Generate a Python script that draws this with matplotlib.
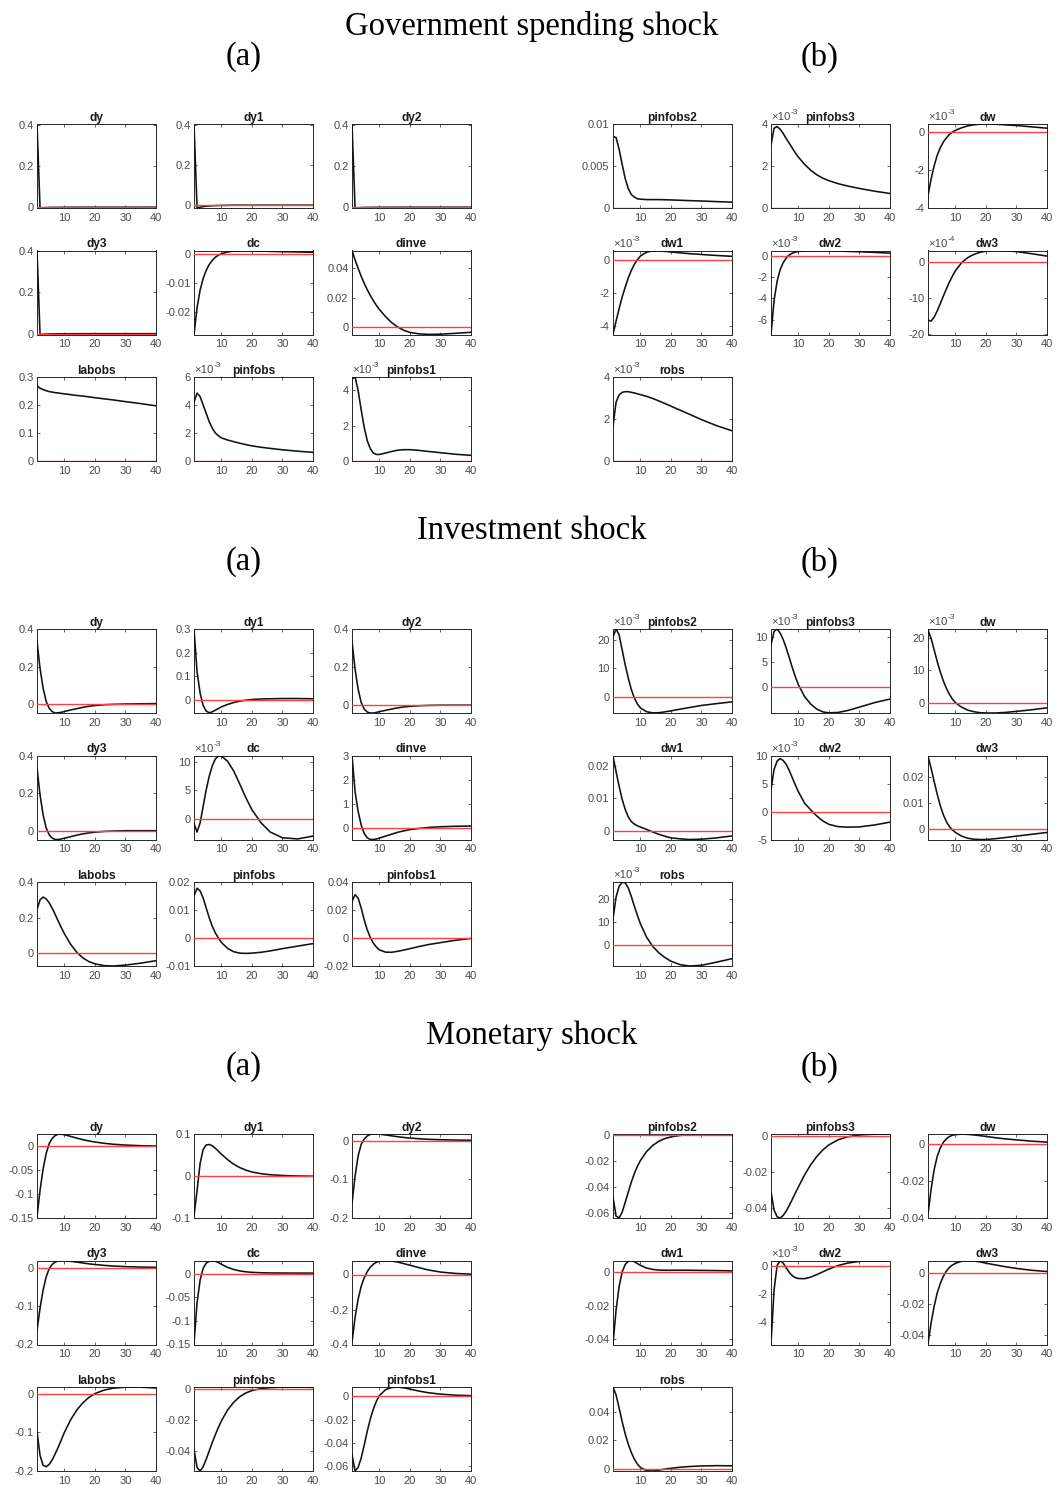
import numpy as np
import matplotlib
matplotlib.use("Agg")
import matplotlib.pyplot as plt
from matplotlib.ticker import FixedLocator, FuncFormatter

# Horizon (quarters) at which the impulse responses are tabulated
periods = [1, 2, 3, 4, 5, 6, 7, 8, 9, 10, 12, 14, 16, 18, 20, 23, 26, 30, 35, 40]

# ---------------- Government spending shock ----------------
g_dy = [0.407, -0.004, -0.003, -0.002, -0.0015, -0.001, -0.001, -0.0008, -0.0006, -0.0005,
        -0.0003, -0.0002, -0.0001, 0.0, 0.0, 0.0, 0.0, 0.0, 0.0, 0.0]
g_dy1 = [0.407, -0.013, -0.009, -0.006, -0.004, -0.003, -0.002, -0.001, -0.0005, 0.0,
         0.0005, 0.001, 0.001, 0.001, 0.001, 0.001, 0.001, 0.001, 0.001, 0.001]
g_dy2 = [0.407, -0.004, -0.003, -0.002, -0.0015, -0.001, -0.001, -0.0008, -0.0006, -0.0005,
         -0.0003, -0.0002, -0.0001, 0.0, 0.0, 0.0, 0.0, 0.0, 0.0, 0.0]
g_dy3 = [0.403, -0.004, -0.003, -0.002, -0.0015, -0.001, -0.001, -0.0008, -0.0006, -0.0005,
         -0.0003, -0.0002, -0.0001, 0.0, 0.0, 0.0, 0.0, 0.0, 0.0, 0.0]
g_dc = [-0.0277, -0.0185, -0.0125, -0.0085, -0.0057, -0.0037, -0.0023, -0.0012, -0.0005, 0.0,
        0.0006, 0.0009, 0.0010, 0.0010, 0.0010, 0.0009, 0.0008, 0.0007, 0.0006, 0.0005]
g_dinve = [0.0518, 0.0455, 0.0398, 0.0345, 0.0297, 0.0254, 0.0215, 0.0180, 0.0148, 0.0120,
           0.0072, 0.0032, 0.0002, -0.0020, -0.0034, -0.0044, -0.0047, -0.0046, -0.0040, -0.0033]
g_labobs = [0.268, 0.260, 0.255, 0.251, 0.248, 0.246, 0.244, 0.243, 0.241, 0.240,
            0.237, 0.234, 0.232, 0.229, 0.226, 0.222, 0.218, 0.212, 0.205, 0.197]
g_pinfobs = np.array([4.2, 4.85, 4.6, 4.0, 3.4, 2.8, 2.35, 2.0, 1.8, 1.65,
                      1.5, 1.38, 1.27, 1.17, 1.08, 0.98, 0.9, 0.8, 0.7, 0.62]) * 1e-3
g_pinfobs1 = np.array([4.65, 4.75, 4.0, 2.9, 1.9, 1.15, 0.7, 0.45, 0.37, 0.37,
                       0.45, 0.54, 0.61, 0.64, 0.64, 0.6, 0.54, 0.47, 0.38, 0.32]) * 1e-3
g_pinfobs2 = [0.0085, 0.0084, 0.0070, 0.0052, 0.0035, 0.0023, 0.0016, 0.0013, 0.0011, 0.00105,
              0.0010, 0.0010, 0.0010, 0.00098, 0.00096, 0.00092, 0.00088, 0.00083, 0.00076, 0.0007]
g_pinfobs3 = np.array([3.0, 3.8, 3.88, 3.75, 3.55, 3.3, 3.08, 2.85, 2.62, 2.42,
                       2.08, 1.8, 1.58, 1.42, 1.3, 1.16, 1.05, 0.93, 0.8, 0.69]) * 1e-3
g_dw = np.array([-3.35, -2.5, -1.8, -1.25, -0.85, -0.55, -0.33, -0.15, -0.02, 0.07,
                 0.2, 0.3, 0.36, 0.39, 0.4, 0.39, 0.36, 0.32, 0.25, 0.18]) * 1e-3
g_dw1 = np.array([-4.5, -3.7, -2.95, -2.25, -1.65, -1.1, -0.65, -0.28, 0.0, 0.22,
                  0.45, 0.53, 0.53, 0.5, 0.46, 0.41, 0.36, 0.31, 0.25, 0.2]) * 1e-3
g_dw2 = np.array([-7.4, -4.2, -2.4, -1.3, -0.65, -0.2, 0.08, 0.25, 0.35, 0.41,
                  0.46, 0.48, 0.49, 0.49, 0.48, 0.45, 0.42, 0.38, 0.32, 0.25]) * 1e-3
g_dw3 = np.array([-16.0, -16.3, -15.2, -13.5, -11.5, -9.4, -7.4, -5.5, -3.8, -2.3,
                  -0.1, 1.3, 2.2, 2.8, 3.1, 3.3, 3.25, 3.0, 2.4, 1.75]) * 1e-4
g_robs = np.array([1.65, 2.8, 3.15, 3.27, 3.3, 3.3, 3.27, 3.24, 3.2, 3.16,
                   3.08, 2.98, 2.86, 2.74, 2.61, 2.42, 2.23, 1.97, 1.68, 1.44]) * 1e-3

# ---------------- Investment shock ----------------
i_dy = [0.335, 0.19, 0.085, 0.015, -0.022, -0.04, -0.047, -0.046, -0.043, -0.039,
        -0.031, -0.024, -0.017, -0.011, -0.007, -0.003, -0.001, 0.001, 0.002, 0.003]
i_dy1 = [0.3, 0.12, 0.03, -0.022, -0.046, -0.053, -0.049, -0.042, -0.035, -0.028,
         -0.018, -0.01, -0.004, 0.0, 0.003, 0.005, 0.006, 0.007, 0.007, 0.006]
i_dy2 = [0.335, 0.19, 0.085, 0.015, -0.02, -0.036, -0.041, -0.041, -0.038, -0.034,
         -0.027, -0.02, -0.014, -0.009, -0.006, -0.003, -0.001, 0.0, 0.0, 0.0]
i_dy3 = [0.335, 0.19, 0.085, 0.015, -0.022, -0.04, -0.047, -0.047, -0.044, -0.040,
         -0.032, -0.024, -0.017, -0.012, -0.008, -0.004, -0.002, 0.0, 0.0, 0.0]
i_dc = np.array([-0.8, -2.3, -0.7, 2.2, 5.1, 7.5, 9.3, 10.5, 11.0, 11.0,
                 10.1, 8.4, 6.1, 3.7, 1.6, -0.7, -2.3, -3.3, -3.5, -3.0]) * 1e-3
i_dinve = [3.0, 1.5, 0.68, 0.12, -0.24, -0.42, -0.49, -0.49, -0.47, -0.43,
           -0.35, -0.27, -0.19, -0.13, -0.08, -0.03, 0.01, 0.04, 0.06, 0.07]
i_labobs = [0.245, 0.3, 0.315, 0.305, 0.283, 0.252, 0.216, 0.178, 0.142, 0.108,
            0.05, 0.005, -0.027, -0.048, -0.061, -0.071, -0.073, -0.068, -0.057, -0.043]
i_pinfobs = [0.015, 0.0178, 0.0168, 0.0143, 0.0107, 0.0072, 0.0042, 0.0018, 0.0, -0.0016,
             -0.0037, -0.0049, -0.0054, -0.0055, -0.0054, -0.0051, -0.0046, -0.0038, -0.0029, -0.002]
i_pinfobs1 = [0.026, 0.031, 0.0285, 0.0215, 0.013, 0.0058, 0.0004, -0.0037, -0.0065, -0.0085,
              -0.0101, -0.0102, -0.0095, -0.0086, -0.0076, -0.0061, -0.0047, -0.0033, -0.0016, -0.0003]
i_pinfobs2 = np.array([21.0, 23.8, 21.8, 16.5, 11.2, 6.6, 2.6, -0.4, -2.5, -3.9,
                       -5.2, -5.6, -5.55, -5.25, -4.9, -4.3, -3.75, -3.0, -2.35, -1.75]) * 1e-3
i_pinfobs3 = np.array([8.5, 11.1, 11.6, 10.8, 9.5, 7.8, 5.9, 3.9, 2.1, 0.5,
                       -1.8, -3.3, -4.3, -4.85, -5.05, -4.95, -4.6, -3.9, -3.0, -2.3]) * 1e-3
i_dw = np.array([22.6, 19.9, 16.4, 12.8, 9.6, 6.8, 4.5, 2.6, 1.1, 0.0,
                 -1.4, -2.3, -2.8, -3.1, -3.2, -3.2, -3.05, -2.7, -2.2, -1.6]) * 1e-3
i_dw1 = [0.0229, 0.0182, 0.0137, 0.0097, 0.0066, 0.0043, 0.0029, 0.0021, 0.0016, 0.0012,
         0.0005, -0.0003, -0.001, -0.0016, -0.0021, -0.0024, -0.0026, -0.0025, -0.0021, -0.0015]
i_dw2 = np.array([3.9, 7.5, 9.0, 9.45, 9.1, 8.4, 7.3, 6.0, 4.7, 3.5,
                  1.5, 0.3, -0.8, -1.7, -2.3, -2.7, -2.8, -2.75, -2.4, -1.9]) * 1e-3
i_dw3 = [0.028, 0.0235, 0.0184, 0.0135, 0.0091, 0.0056, 0.0029, 0.001, -0.0003, -0.0013,
         -0.0027, -0.0035, -0.0039, -0.004, -0.004, -0.0037, -0.0033, -0.0027, -0.002, -0.0013]
i_robs = np.array([11.5, 21.0, 25.7, 27.5, 27.2, 25.0, 21.3, 17.0, 13.0, 9.3,
                   3.5, -0.5, -3.3, -5.4, -7.0, -8.5, -9.1, -8.8, -7.4, -5.9]) * 1e-3

# ---------------- Monetary shock ----------------
m_dy = [-0.148, -0.092, -0.047, -0.015, 0.006, 0.017, 0.023, 0.0255, 0.0255, 0.0245,
        0.021, 0.0175, 0.0142, 0.0115, 0.0092, 0.0065, 0.0045, 0.0028, 0.0015, 0.0008]
m_dy1 = [-0.095, -0.035, 0.03, 0.063, 0.074, 0.075, 0.072, 0.066, 0.059, 0.052,
         0.039, 0.028, 0.02, 0.014, 0.0095, 0.0055, 0.003, 0.0012, 0.0, -0.0005]
m_dy2 = [-0.163, -0.092, -0.04, -0.01, 0.004, 0.012, 0.016, 0.017, 0.017, 0.0165,
         0.0145, 0.0122, 0.01, 0.008, 0.0065, 0.0047, 0.0033, 0.0022, 0.0013, 0.0008]
m_dy3 = [-0.163, -0.105, -0.058, -0.024, -0.002, 0.009, 0.015, 0.018, 0.019, 0.019,
         0.017, 0.015, 0.0125, 0.0103, 0.0085, 0.0063, 0.0046, 0.003, 0.0018, 0.0012]
m_dc = [-0.147, -0.062, -0.014, 0.011, 0.022, 0.026, 0.0272, 0.026, 0.023, 0.0195,
        0.013, 0.0085, 0.0055, 0.0036, 0.0025, 0.0016, 0.0012, 0.001, 0.0009, 0.0008]
m_dinve = [-0.388, -0.245, -0.142, -0.068, -0.019, 0.017, 0.042, 0.059, 0.07, 0.076,
           0.079, 0.077, 0.071, 0.062, 0.053, 0.039, 0.026, 0.014, 0.006, 0.002]
m_labobs = [-0.098, -0.16, -0.185, -0.189, -0.183, -0.171, -0.155, -0.138, -0.119, -0.1,
            -0.068, -0.043, -0.024, -0.01, 0.0, 0.009, 0.014, 0.0165, 0.0165, 0.0145]
m_pinfobs = [-0.039, -0.0505, -0.0527, -0.05, -0.0452, -0.0398, -0.0344, -0.0295, -0.0248, -0.0206,
             -0.0137, -0.0088, -0.0052, -0.0028, -0.0013, 0.0, 0.0006, 0.0009, 0.0009, 0.0008]
m_pinfobs1 = [-0.05, -0.064, -0.061, -0.053, -0.042, -0.030, -0.0195, -0.011, -0.0043, 0.0005,
              0.0055, 0.0074, 0.0077, 0.0071, 0.006, 0.0043, 0.0029, 0.0017, 0.0008, 0.0004]
m_pinfobs2 = [-0.048, -0.0625, -0.064, -0.0595, -0.052, -0.0442, -0.0365, -0.0298, -0.0243, -0.0198,
              -0.013, -0.0083, -0.0051, -0.003, -0.0017, -0.0006, 0.0, 0.0003, 0.0004, 0.0004]
m_pinfobs3 = [-0.031, -0.0413, -0.045, -0.0457, -0.0443, -0.0418, -0.0387, -0.0353, -0.0318, -0.0284,
              -0.0218, -0.0162, -0.0116, -0.0079, -0.0051, -0.0023, -0.0007, 0.0004, 0.0008, 0.0009]
m_dw = [-0.038, -0.0245, -0.0138, -0.0066, -0.002, 0.0011, 0.003, 0.0043, 0.005, 0.0054,
        0.0056, 0.0055, 0.0052, 0.0048, 0.0044, 0.0037, 0.0031, 0.0025, 0.0018, 0.0013]
m_dw1 = [-0.0428, -0.0228, -0.0088, 0.0, 0.0044, 0.0064, 0.0067, 0.0061, 0.005, 0.0039,
         0.0023, 0.0015, 0.0011, 0.001, 0.001, 0.001, 0.001, 0.0009, 0.0008, 0.0006]
m_dw2 = np.array([-5.55, -1.7, 0.05, 0.4, 0.22, -0.12, -0.45, -0.68, -0.82, -0.88,
                  -0.89, -0.78, -0.6, -0.4, -0.2, 0.05, 0.22, 0.35, 0.41, 0.41]) * 1e-3
m_dw3 = [-0.0456, -0.0326, -0.0218, -0.0133, -0.0071, -0.0025, 0.0009, 0.0033, 0.0049, 0.006,
         0.0073, 0.0077, 0.0075, 0.0069, 0.0061, 0.005, 0.0039, 0.0027, 0.0015, 0.0007]
m_robs = [0.057, 0.0515, 0.0425, 0.033, 0.0245, 0.0174, 0.0116, 0.007, 0.0036, 0.0012,
          -0.001, -0.0012, -0.0006, 0.0001, 0.0007, 0.0014, 0.0019, 0.0023, 0.0025, 0.0024]

# Axis ranges, y ticks and the power of ten printed above each panel
gov_axes = {
    "dy": ((-0.004, 0.407), [0, 0.2, 0.4], 0),
    "dy1": ((-0.013, 0.407), [0, 0.2, 0.4], 0),
    "dy2": ((-0.004, 0.407), [0, 0.2, 0.4], 0),
    "dy3": ((-0.004, 0.403), [0, 0.2, 0.4], 0),
    "dc": ((-0.0277, 0.0011), [-0.02, -0.01, 0], 0),
    "dinve": ((-0.0048, 0.0518), [0, 0.02, 0.04], 0),
    "labobs": ((0, 0.3), [0, 0.1, 0.2, 0.3], 0),
    "pinfobs": ((0, 6e-3), [0, 2e-3, 4e-3, 6e-3], -3),
    "pinfobs1": ((0, 4.75e-3), [0, 2e-3, 4e-3], -3),
    "pinfobs2": ((0, 0.01), [0, 0.005, 0.01], 0),
    "pinfobs3": ((0, 4e-3), [0, 2e-3, 4e-3], -3),
    "dw": ((-4e-3, 0.4e-3), [-4e-3, -2e-3, 0], -3),
    "dw1": ((-4.5e-3, 0.55e-3), [-4e-3, -2e-3, 0], -3),
    "dw2": ((-7.4e-3, 0.5e-3), [-6e-3, -4e-3, -2e-3, 0], -3),
    "dw3": ((-20e-4, 3.3e-4), [-20e-4, -10e-4, 0], -4),
    "robs": ((0, 4e-3), [0, 2e-3, 4e-3], -3),
}
inv_axes = {
    "dy": ((-0.047, 0.4), [0, 0.2, 0.4], 0),
    "dy1": ((-0.054, 0.3), [0, 0.1, 0.2, 0.3], 0),
    "dy2": ((-0.041, 0.4), [0, 0.2, 0.4], 0),
    "dy3": ((-0.047, 0.4), [0, 0.2, 0.4], 0),
    "dc": ((-3.6e-3, 11.1e-3), [0, 5e-3, 10e-3], -3),
    "dinve": ((-0.49, 3.0), [0, 1, 2, 3], 0),
    "labobs": ((-0.073, 0.4), [0, 0.2, 0.4], 0),
    "pinfobs": ((-0.01, 0.02), [-0.01, 0, 0.01, 0.02], 0),
    "pinfobs1": ((-0.02, 0.04), [-0.02, 0, 0.02, 0.04], 0),
    "pinfobs2": ((-5.65e-3, 23.8e-3), [0, 10e-3, 20e-3], -3),
    "pinfobs3": ((-5.07e-3, 11.6e-3), [0, 5e-3, 10e-3], -3),
    "dw": ((-3.2e-3, 22.8e-3), [0, 10e-3, 20e-3], -3),
    "dw1": ((-0.0026, 0.0231), [0, 0.01, 0.02], 0),
    "dw2": ((-5e-3, 10e-3), [-5e-3, 0, 5e-3, 10e-3], -3),
    "dw3": ((-0.004, 0.0283), [0, 0.01, 0.02], 0),
    "robs": ((-9.1e-3, 27.6e-3), [0, 10e-3, 20e-3], -3),
}
mon_axes = {
    "dy": ((-0.15, 0.026), [-0.15, -0.1, -0.05, 0], 0),
    "dy1": ((-0.1, 0.1), [-0.1, 0, 0.1], 0),
    "dy2": ((-0.2, 0.017), [-0.2, -0.1, 0], 0),
    "dy3": ((-0.2, 0.019), [-0.2, -0.1, 0], 0),
    "dc": ((-0.15, 0.0275), [-0.15, -0.1, -0.05, 0], 0),
    "dinve": ((-0.4, 0.08), [-0.4, -0.2, 0], 0),
    "labobs": ((-0.2, 0.017), [-0.2, -0.1, 0], 0),
    "pinfobs": ((-0.0527, 0.001), [-0.04, -0.02, 0], 0),
    "pinfobs1": ((-0.064, 0.0078), [-0.06, -0.04, -0.02, 0], 0),
    "pinfobs2": ((-0.064, 0.0005), [-0.06, -0.04, -0.02, 0], 0),
    "pinfobs3": ((-0.0457, 0.0009), [-0.04, -0.02, 0], 0),
    "dw": ((-0.04, 0.0057), [-0.04, -0.02, 0], 0),
    "dw1": ((-0.0432, 0.0068), [-0.04, -0.02, 0], 0),
    "dw2": ((-5.6e-3, 0.41e-3), [-4e-3, -2e-3, 0], -3),
    "dw3": ((-0.0463, 0.0078), [-0.04, -0.02, 0], 0),
    "robs": ((-0.0012, 0.057), [0, 0.02, 0.04], 0),
}

left_vars = ["dy", "dy1", "dy2", "dy3", "dc", "dinve", "labobs", "pinfobs", "pinfobs1"]
right_vars = ["pinfobs2", "pinfobs3", "dw", "dw1", "dw2", "dw3", "robs"]

shocks = [
    ("Government spending shock", gov_axes,
     dict(dy=g_dy, dy1=g_dy1, dy2=g_dy2, dy3=g_dy3, dc=g_dc, dinve=g_dinve, labobs=g_labobs,
          pinfobs=g_pinfobs, pinfobs1=g_pinfobs1, pinfobs2=g_pinfobs2, pinfobs3=g_pinfobs3,
          dw=g_dw, dw1=g_dw1, dw2=g_dw2, dw3=g_dw3, robs=g_robs)),
    ("Investment shock", inv_axes,
     dict(dy=i_dy, dy1=i_dy1, dy2=i_dy2, dy3=i_dy3, dc=i_dc, dinve=i_dinve, labobs=i_labobs,
          pinfobs=i_pinfobs, pinfobs1=i_pinfobs1, pinfobs2=i_pinfobs2, pinfobs3=i_pinfobs3,
          dw=i_dw, dw1=i_dw1, dw2=i_dw2, dw3=i_dw3, robs=i_robs)),
    ("Monetary shock", mon_axes,
     dict(dy=m_dy, dy1=m_dy1, dy2=m_dy2, dy3=m_dy3, dc=m_dc, dinve=m_dinve, labobs=m_labobs,
          pinfobs=m_pinfobs, pinfobs1=m_pinfobs1, pinfobs2=m_pinfobs2, pinfobs3=m_pinfobs3,
          dw=m_dw, dw1=m_dw1, dw2=m_dw2, dw3=m_dw3, robs=m_robs)),
]

# ---------------- Layout (pixels) ----------------
W, H = 1056, 1485
AX_W, AX_H = 119, 84
COLS_A = [37, 194, 352]
COLS_B = [613, 771, 928]
BLOCK_TOP = [124, 629, 1134]
ROW_STEP = 126.5
TITLE_Y = [27, 531, 1036]
SUB_Y = [57, 562, 1067]

GRAY = "#262626"
TICK_GRAY = "#4a4a4a"

plt.rcParams["font.family"] = ["Liberation Sans", "DejaVu Sans"]

fig = plt.figure(figsize=(W / 100, H / 100), dpi=100)
fig.patch.set_facecolor("white")


def make_axes(x, top):
    return fig.add_axes([x / W, 1 - (top + AX_H) / H, AX_W / W, AX_H / H])


def tick_fmt(power):
    def f(v, _pos):
        s = round(v / 10.0 ** power, 6)
        if abs(s) < 1e-12:
            s = 0.0
        return "%g" % s
    return f


def draw_panel(ax, name, values, spec):
    ylim, yticks, power = spec
    ax.plot(periods, values, color="#111111", lw=1.15, solid_capstyle="round", zorder=3)
    ax.plot([1, 40], [0, 0], color="#ff4040", lw=1.0, zorder=4)
    ax.set_xlim(1, 40)
    ax.set_ylim(*ylim)
    ax.xaxis.set_major_locator(FixedLocator([10, 20, 30, 40]))
    ax.yaxis.set_major_locator(FixedLocator(yticks))
    ax.yaxis.set_major_formatter(FuncFormatter(tick_fmt(power)))
    ax.xaxis.set_major_formatter(FuncFormatter(lambda v, p: "%d" % v))
    ax.tick_params(direction="in", length=2.2, width=0.5, colors=GRAY,
                   labelcolor=TICK_GRAY, labelsize=8.0, top=True, right=True)
    ax.tick_params(axis="x", pad=3.5)
    ax.tick_params(axis="y", pad=2.5)
    for sp in ax.spines.values():
        sp.set_color(GRAY)
        sp.set_linewidth(0.7)
    ax.set_title(name, fontsize=8.6, fontweight="bold", color="#1a1a1a", pad=2.5)
    if power != 0:
        # exponent marker: "×10" with a raised power written with a plain hyphen
        ax.annotate("\u00d710", xy=(0, 1), xycoords="axes fraction",
                    xytext=(0, 1.2), textcoords="offset points",
                    ha="left", va="bottom", fontsize=8.2, color=TICK_GRAY)
        ax.annotate("%d" % power, xy=(0, 1), xycoords="axes fraction",
                    xytext=(14.2, 5.6), textcoords="offset points",
                    ha="left", va="bottom", fontsize=6.0, color=TICK_GRAY)


for s, (title, specs, series) in enumerate(shocks):
    fig.text(532 / W, 1 - TITLE_Y[s] / H, title, ha="center", va="center",
             fontsize=23.5, family="Liberation Serif")
    fig.text(244 / W, 1 - SUB_Y[s] / H, "(a)", ha="center", va="center",
             fontsize=23.5, family="Liberation Serif")
    fig.text(820 / W, 1 - SUB_Y[s] / H, "(b)", ha="center", va="center",
             fontsize=23.5, family="Liberation Serif")
    for k, name in enumerate(left_vars):
        r, c = divmod(k, 3)
        ax = make_axes(COLS_A[c], BLOCK_TOP[s] + r * ROW_STEP)
        draw_panel(ax, name, series[name], specs[name])
    for k, name in enumerate(right_vars):
        r, c = divmod(k, 3)
        ax = make_axes(COLS_B[c], BLOCK_TOP[s] + r * ROW_STEP)
        draw_panel(ax, name, series[name], specs[name])

fig.savefig("out.png", dpi=100, facecolor="white")
